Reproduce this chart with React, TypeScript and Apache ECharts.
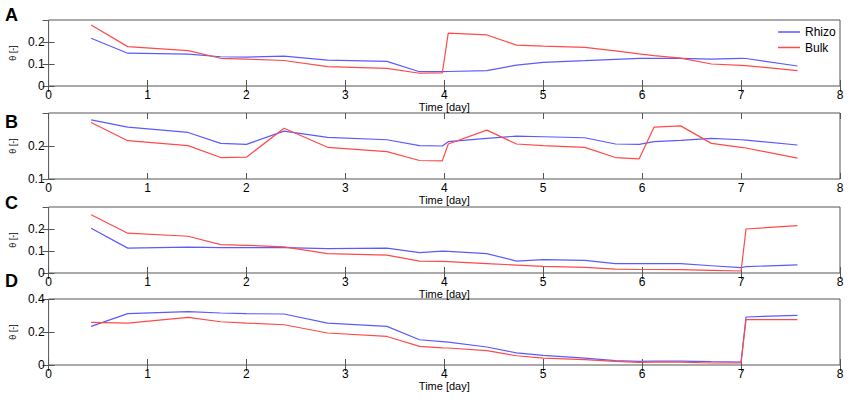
import React, { useEffect, useRef } from "react";
import * as echarts from "echarts";

// Shared measurement times [day]
const times = [0.43, 0.8, 1.41, 1.74, 2.0, 2.38, 2.82, 3.42, 3.75, 3.98, 4.04, 4.43, 4.73, 5.0, 5.42, 5.73, 5.97, 6.12, 6.39, 6.7, 7.0, 7.05, 7.57];

const panelLabels = ["A", "B", "C", "D"];
const seriesNames = ["Rhizo", "Bulk"];

const rhizoA = [0.217, 0.149, 0.145, 0.133, 0.131, 0.136, 0.118, 0.112, 0.065, 0.065, 0.066, 0.07, 0.095, 0.107, 0.115, 0.121, 0.126, 0.126, 0.126, 0.122, 0.126, 0.125, 0.091];
const bulkA = [0.277, 0.179, 0.161, 0.126, 0.122, 0.116, 0.088, 0.08, 0.058, 0.06, 0.24, 0.232, 0.186, 0.181, 0.176, 0.16, 0.146, 0.138, 0.127, 0.1, 0.094, 0.093, 0.07];

const rhizoB = [0.279, 0.257, 0.241, 0.208, 0.205, 0.245, 0.226, 0.219, 0.201, 0.2, 0.213, 0.223, 0.23, 0.228, 0.225, 0.206, 0.205, 0.213, 0.217, 0.223, 0.219, 0.218, 0.203];
const bulkB = [0.271, 0.216, 0.201, 0.165, 0.166, 0.254, 0.196, 0.183, 0.156, 0.155, 0.206, 0.248, 0.206, 0.201, 0.196, 0.165, 0.161, 0.257, 0.261, 0.208, 0.196, 0.194, 0.163];

const rhizoC = [0.203, 0.113, 0.118, 0.115, 0.115, 0.115, 0.111, 0.113, 0.093, 0.099, 0.098, 0.088, 0.054, 0.061, 0.057, 0.043, 0.043, 0.043, 0.043, 0.033, 0.024, 0.029, 0.037];
const bulkC = [0.265, 0.181, 0.167, 0.129, 0.126, 0.119, 0.088, 0.081, 0.054, 0.053, 0.052, 0.043, 0.036, 0.03, 0.026, 0.018, 0.016, 0.016, 0.015, 0.012, 0.009, 0.2, 0.215];

const rhizoD = [0.234, 0.311, 0.323, 0.315, 0.311, 0.309, 0.254, 0.234, 0.153, 0.142, 0.139, 0.109, 0.073, 0.058, 0.042, 0.026, 0.022, 0.023, 0.024, 0.02, 0.018, 0.291, 0.301];
const bulkD = [0.258, 0.254, 0.289, 0.262, 0.254, 0.244, 0.194, 0.173, 0.113, 0.104, 0.103, 0.087, 0.056, 0.042, 0.032, 0.022, 0.016, 0.017, 0.018, 0.012, 0.012, 0.275, 0.275];

const rhizoPanels = [rhizoA, rhizoB, rhizoC, rhizoD];
const bulkPanels = [bulkA, bulkB, bulkC, bulkD];

// y-axis ranges per panel
const yMins = [0, 0.1, 0, 0];
const yMaxs = [0.3, 0.3, 0.3, 0.4];
const yIntervals = [0.1, 0.1, 0.1, 0.2];
const yShowMax = [false, false, false, true];

const xMin = 0;
const xMax = 8;
const xInterval = 1;

const FONT = "Liberation Sans, Arial, sans-serif";
const BLUE = "#5a5aff";
const RED = "#ff4a4a";
const AXIS = "#555555";

const gridTops = [20, 113, 207, 299];
const gridHeight = 66;
const labelY = [14.5, 121.5, 202.5, 281];

export default function App() {
  const ref = useRef<HTMLDivElement>(null);

  useEffect(() => {
    document.body.style.margin = "0";
    if (!ref.current) return;
    const chart = echarts.init(ref.current, null, { renderer: "svg" });

    const grids: any[] = [];
    const xAxes: any[] = [];
    const yAxes: any[] = [];
    const series: any[] = [];

    for (let g = 0; g < 4; g++) {
      grids.push({
        left: 39,
        right: 10,
        top: gridTops[g],
        height: gridHeight,
        show: true,
        borderColor: AXIS,
        borderWidth: 1,
        backgroundColor: "#fff",
      });
      const tick = { show: true, inside: true, length: 6, lineStyle: { color: AXIS, width: 1 } };
      xAxes.push({
        type: "value",
        gridIndex: g,
        position: "bottom",
        min: xMin,
        max: xMax,
        interval: xInterval,
        axisLine: { show: false },
        axisTick: tick,
        splitLine: { show: false },
        axisLabel: { color: "#000", fontSize: 12, fontFamily: FONT, margin: 3 },
        name: "Time [day]",
        nameLocation: "middle",
        nameGap: 12,
        nameTextStyle: { color: "#000", fontSize: 11, fontFamily: FONT },
      });
      xAxes.push({
        type: "value",
        gridIndex: g,
        position: "top",
        min: xMin,
        max: xMax,
        interval: xInterval,
        axisLine: { show: false },
        axisTick: tick,
        splitLine: { show: false },
        axisLabel: { show: false },
      });
      yAxes.push({
        type: "value",
        gridIndex: g,
        position: "left",
        min: yMins[g],
        max: yMaxs[g],
        interval: yIntervals[g],
        axisLine: { show: false },
        axisTick: tick,
        splitLine: { show: false },
        axisLabel: {
          color: "#000",
          fontSize: 12,
          fontFamily: FONT,
          margin: 4,
          showMaxLabel: yShowMax[g],
          showMinLabel: true,
        },
        name: "θ [-]",
        nameLocation: "middle",
        nameRotate: 90,
        nameGap: 27,
        nameTextStyle: { color: "#000", fontSize: 9, fontFamily: FONT },
      });
      yAxes.push({
        type: "value",
        gridIndex: g,
        position: "right",
        min: yMins[g],
        max: yMaxs[g],
        interval: yIntervals[g],
        axisLine: { show: false },
        axisTick: tick,
        splitLine: { show: false },
        axisLabel: { show: false },
      });
      series.push({
        name: seriesNames[0],
        type: "line",
        xAxisIndex: 2 * g,
        yAxisIndex: 2 * g,
        symbol: "none",
        data: times.map((t, i) => [t, rhizoPanels[g][i]]),
        lineStyle: { color: BLUE, width: 1.2 },
        itemStyle: { color: BLUE },
      });
      series.push({
        name: seriesNames[1],
        type: "line",
        xAxisIndex: 2 * g,
        yAxisIndex: 2 * g,
        symbol: "none",
        data: times.map((t, i) => [t, bulkPanels[g][i]]),
        lineStyle: { color: RED, width: 1.2 },
        itemStyle: { color: RED },
      });
    }

    chart.setOption({
      animation: false,
      backgroundColor: "#fff",
      grid: grids,
      xAxis: xAxes,
      yAxis: yAxes,
      series,
      legend: {
        data: seriesNames,
        orient: "vertical",
        left: 778,
        top: 26,
        icon: "rect",
        itemWidth: 22,
        itemHeight: 1.5,
        itemGap: 3.5,
        textStyle: { color: "#000", fontSize: 12, fontFamily: FONT },
        padding: 0,
      },
      graphic: panelLabels.map((lab, g) => ({
        type: "text",
        left: 5,
        top: labelY[g] - 9,
        style: { text: lab, fontSize: 18, fontWeight: "bold", fontFamily: FONT, fill: "#000" },
      })),
    });

    return () => chart.dispose();
  }, []);

  return <div ref={ref} style={{ width: 850, height: 400 }} />;
}
